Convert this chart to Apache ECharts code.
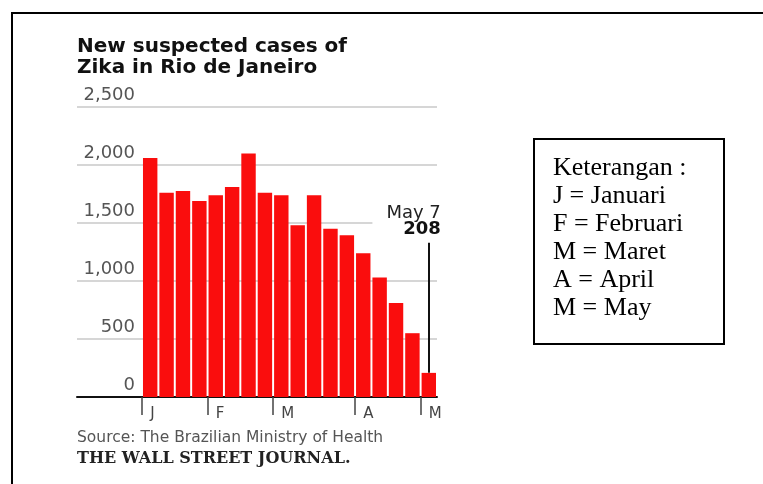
<!DOCTYPE html>
<html>
<head>
<meta charset="utf-8">
<title>Zika in Rio de Janeiro</title>
<script src="https://cdn.jsdelivr.net/npm/echarts@6/dist/echarts.min.js"></script>
<style>
  html, body { margin: 0; padding: 0; background: #fff; }
  #chart { width: 763px; height: 484px; }
</style>
</head>
<body>
<div id="chart"></div>
<script>
// weekly bars, month letter of each week
const weekMonths = ['J', 'J', 'J', 'J', 'F', 'F', 'F', 'F', 'M', 'M', 'M', 'M', 'M', 'A', 'A', 'A', 'A', 'M'];
const weeks = weekMonths.map((m, i) => 'Week ' + (i + 1));
const cases = [2060, 1760, 1775, 1690, 1740, 1810, 2100, 1760, 1740, 1480, 1740, 1450, 1395, 1240, 1030, 810, 550, 208];
const yMin = 0;
const yMax = 2500;
const yStep = 500;

// last week call-out
const lastLabel = 'May 7';
const leaderTop = 1330;

const legendLines = ['Keterangan :', 'J = Januari', 'F = Februari', 'M = Maret', 'A = April', 'M = May'];

// week index where each month starts
const monthStarts = weekMonths.map((m, i) => i).filter(i => i === 0 || weekMonths[i] !== weekMonths[i - 1]);
const last = cases.length - 1;

const chart = echarts.init(document.getElementById('chart'));

const option = {
  animation: false,
  backgroundColor: '#fff',
  title: {
    text: 'New suspected cases of\nZika in Rio de Janeiro',
    left: 77,
    top: 36,
    padding: 0,
    textStyle: {
      fontFamily: 'DejaVu Sans',
      fontWeight: 'bold',
      fontSize: 20,
      lineHeight: 21,
      color: '#111'
    }
  },
  grid: [
    { left: 77, right: 326, top: 107, bottom: 87 },
    { left: 142, right: 326, top: 107, bottom: 87 }
  ],
  xAxis: [
    {
      gridIndex: 0,
      type: 'value',
      position: 'bottom',
      min: 0,
      max: 1,
      axisLine: { show: true, lineStyle: { color: '#111', width: 2 } },
      axisTick: { show: false },
      axisLabel: { show: false },
      splitLine: { show: false }
    },
    {
      gridIndex: 1,
      type: 'category',
      position: 'bottom',
      data: weeks,
      boundaryGap: true,
      axisLine: { show: false },
      axisTick: { show: false },
      axisLabel: { show: false },
      splitLine: { show: false }
    },
    {
      // month ticks on week boundaries
      gridIndex: 1,
      type: 'value',
      position: 'bottom',
      min: 0,
      max: weeks.length,
      axisLine: { show: false },
      axisTick: {
        show: true,
        customValues: monthStarts,
        length: 18,
        lineStyle: { color: '#444', width: 1.5 }
      },
      axisLabel: {
        customValues: monthStarts.map(i => i + 0.5),
        formatter: (v) => weekMonths[Math.floor(v)],
        align: 'left',
        margin: 10,
        fontFamily: 'DejaVu Sans',
        fontSize: 15,
        color: '#444'
      },
      splitLine: { show: false }
    }
  ],
  yAxis: [
    {
      gridIndex: 0,
      type: 'value',
      min: yMin,
      max: yMax,
      interval: yStep,
      axisLine: { show: false },
      axisTick: { show: false },
      axisLabel: {
        margin: -58,
        verticalAlign: 'bottom',
        padding: [0, 0, 3, 0],
        formatter: (v) => v.toLocaleString('en-US'),
        fontFamily: 'DejaVu Sans',
        fontSize: 18,
        color: '#555'
      },
      splitLine: { show: true, lineStyle: { color: '#c8c8c8', width: 1.5 } }
    },
    {
      gridIndex: 1,
      type: 'value',
      min: yMin,
      max: yMax,
      interval: yStep,
      show: false
    }
  ],
  series: [
    {
      type: 'bar',
      xAxisIndex: 1,
      yAxisIndex: 1,
      barCategoryGap: '12%',
      itemStyle: { color: '#fa0d0d' },
      data: cases.map((v, i) => i !== last ? v : {
        value: v,
        label: {
          show: true,
          position: 'top',
          distance: 134,
          align: 'right',
          offset: [12, 0],
          backgroundColor: '#fff',
          padding: [2, 0, 2, 14],
          formatter: lastLabel + '\n{b|' + v + '}',
          fontFamily: 'DejaVu Sans',
          fontSize: 18,
          lineHeight: 16,
          color: '#222',
          rich: {
            b: {
              align: 'right',
              fontFamily: 'DejaVu Sans',
              fontWeight: 'bold',
              fontSize: 18,
              lineHeight: 16,
              color: '#111'
            }
          }
        }
      }),
      markLine: {
        silent: true,
        symbol: 'none',
        label: { show: false },
        lineStyle: { color: '#111', width: 2, type: 'solid' },
        data: [[{ coord: [last, cases[last]] }, { coord: [last, leaderTop] }]]
      }
    }
  ],
  graphic: [
    // page frame
    {
      type: 'polyline',
      shape: { points: [[12, 484], [12, 13], [763, 13]] },
      style: { stroke: '#000', lineWidth: 2, fill: null }
    },
    {
      type: 'text',
      left: 77,
      top: 430,
      style: {
        text: 'Source: The Brazilian Ministry of Health',
        font: '15.5px "DejaVu Sans"',
        fill: '#555'
      }
    },
    {
      type: 'text',
      left: 77,
      top: 451,
      style: {
        text: 'THE WALL STREET JOURNAL.',
        font: 'bold 16px "DejaVu Serif"',
        fill: '#222'
      }
    },
    // legend box
    {
      type: 'rect',
      shape: { x: 534, y: 139, width: 190, height: 205 },
      style: { stroke: '#000', lineWidth: 2, fill: '#fff' }
    },
    {
      type: 'text',
      x: 553,
      y: 154,
      style: {
        text: legendLines.join('\n'),
        font: '26px "Liberation Serif"',
        lineHeight: 28,
        fill: '#000'
      }
    }
  ]
};

chart.setOption(option);
</script>
</body>
</html>
